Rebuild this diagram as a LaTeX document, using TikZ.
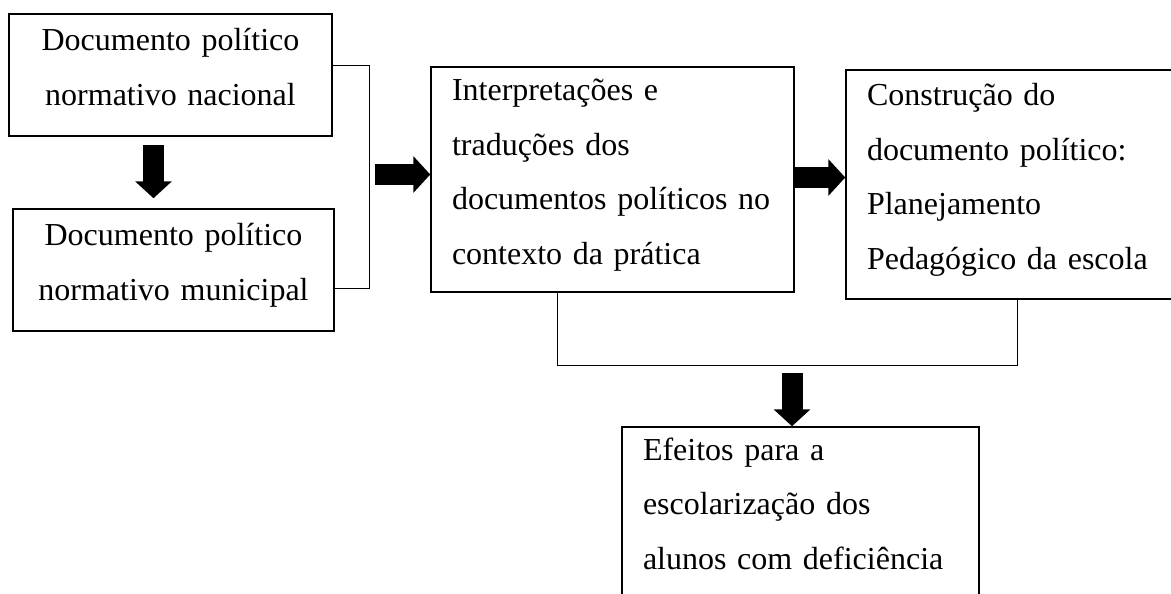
\documentclass[tikz,border=0pt]{standalone}
\usepackage{fontspec}
\setmainfont{Liberation Serif}
\usetikzlibrary{arrows.meta,positioning}
\newcommand\boxstrut{\rule[-16pt]{0pt}{38pt}}

\begin{document}
\begin{tikzpicture}[x=1pt,y=-1pt,
	box/.style={draw,line width=1.5pt,inner sep=0pt,font=\fontsize{32}{54.5}\selectfont,
		execute at begin node=\boxstrut,execute at end node=\boxstrut},
	midbox/.style={box,align=center,inner xsep=10pt},
	leftbox/.style={box,align=left,inner xsep=21pt},
	bigarrow/.style={line width=21pt,-{Triangle[width=36pt,length=17pt]}},
	bracket/.style={line width=1pt}]
	
	\useasboundingbox (0,0) rectangle (1171,594);
	
	\node[midbox,text width=303pt,minimum height=122pt] (natl) at (170.5,75) {Documento político\\normativo nacional};
	\node[midbox,text width=301pt,minimum height=122pt] (munic) at (173.5,270) {Documento político\\normativo municipal};
	\node[leftbox,text width=321pt,minimum height=225pt] (interp) at (612.5,179.5) {Interpretações e\\traduções dos\\documentos políticos no\\contexto da prática};
	\node[leftbox,text width=400pt,minimum height=229pt] (constr) at (1067,184.5) {Construção do\\documento político:\\Planejamento\\Pedagógico da escola};
	\node[leftbox,text width=315pt,minimum height=169pt] (efeitos) at (800.5,511.5) {Efeitos para a\\escolarização dos\\alunos com deficiência};
	
	\draw[bracket] ([yshift=9pt]natl.east) -- ++(37,0) coordinate (brA) |- ([yshift=-18pt]munic.east);
	\draw[bracket] ([xshift=-55.5pt]interp.south) -- ++(0,73) coordinate (brB) -| ([xshift=-50pt]constr.south);
	
	\draw[bigarrow,shorten <=8pt,shorten >=10pt] ([xshift=-17pt]natl.south) -- ([xshift=-17pt]natl.south |- munic.north);
	\draw[bigarrow,shorten <=5pt] ([yshift=5pt]brA |- interp.west) -- ([yshift=5pt]interp.west);
	\draw[bigarrow] ([yshift=2pt]interp.east) -- ([yshift=2pt]interp.east -| constr.west);
	\draw[bigarrow,shorten <=7pt] ([xshift=-8.5pt]efeitos.north |- brB) -- ([xshift=-8.5pt]efeitos.north);
	
\end{tikzpicture}
\end{document}
